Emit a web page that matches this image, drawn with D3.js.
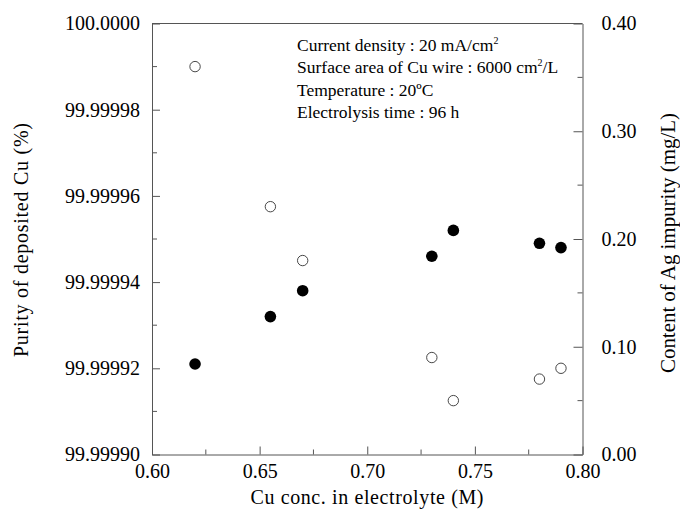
<!DOCTYPE html>
<html>
<head>
<meta charset="utf-8">
<script src="https://cdn.jsdelivr.net/npm/d3@7"></script>
<style>
  body { margin: 0; background: #fff; }
  text { font-family: "Liberation Serif", "Times New Roman", serif; fill: #000; }
  .axis path, .axis line { stroke: #555; stroke-width: 1; }
</style>
</head>
<body>
<div id="chart"></div>
<script>
// Cu concentration (M)
var conc = [0.62, 0.655, 0.67, 0.73, 0.74, 0.78, 0.79];
// purity of deposited Cu (%) - filled circles, left axis
var purity = [99.999921, 99.999932, 99.999938, 99.999946, 99.999952, 99.999949, 99.999948];
// content of Ag impurity (mg/L) - open circles, right axis
var agContent = [0.36, 0.23, 0.18, 0.09, 0.05, 0.07, 0.08];

var xTicks = [0.60, 0.65, 0.70, 0.75, 0.80];
var xMinor = [0.625, 0.675, 0.725, 0.775];
var purityTicks = [99.9999, 99.99992, 99.99994, 99.99996, 99.99998, 100.0];
var purityLabels = ["99.99990", "99.99992", "99.99994", "99.99996", "99.99998", "100.0000"];
var purityMinor = [99.99991, 99.99993, 99.99995, 99.99997, 99.99999];
var agTicks = [0.0, 0.1, 0.2, 0.3, 0.4];
var agMinor = [0.05, 0.15, 0.25, 0.35];

var notes = ["Current density : 20 mA/cm", "Surface area of Cu wire : 6000 cm", "Temperature : 20\u00baC", "Electrolysis time : 96 h"];

var svg = d3.select("#chart")
  .append("svg")
  .attr("width", 680)
  .attr("height", 518);

var pArea = [152, 23.5, 582.5, 454.5];

var x = d3.scaleLinear().domain([0.6, 0.8]).range([pArea[0], pArea[2]]);
var yL = d3.scaleLinear().domain([99.9999, 100]).range([pArea[3], pArea[1]]);
var yR = d3.scaleLinear().domain([0, 0.4]).range([pArea[3], pArea[1]]);

// frame top line
svg.append("line")
  .attr("x1", pArea[0]).attr("x2", pArea[2])
  .attr("y1", pArea[1]).attr("y2", pArea[1])
  .attr("stroke", "#555");

// bottom axis
var gx = svg.append("g")
  .attr("class", "axis")
  .attr("transform", `translate(0,${pArea[3]})`)
  .call(d3.axisBottom(x).tickValues(xTicks).tickSizeInner(-8).tickSizeOuter(0)
    .tickPadding(9).tickFormat(d3.format(".2f")));
gx.selectAll("line.minor").data(xMinor).enter().append("line")
  .attr("x1", d => x(d)).attr("x2", d => x(d))
  .attr("y1", 0).attr("y2", -5).attr("stroke", "#555");

// left axis
var gl = svg.append("g")
  .attr("class", "axis")
  .attr("transform", `translate(${pArea[0]},0)`)
  .call(d3.axisLeft(yL).tickValues(purityTicks).tickSizeInner(-8).tickSizeOuter(0)
    .tickPadding(12).tickFormat((d, i) => purityLabels[i]));
gl.selectAll("line.minor").data(purityMinor).enter().append("line")
  .attr("y1", d => yL(d)).attr("y2", d => yL(d))
  .attr("x1", 0).attr("x2", 5).attr("stroke", "#555");

// right axis
var gr = svg.append("g")
  .attr("class", "axis")
  .attr("transform", `translate(${pArea[2]},0)`)
  .call(d3.axisRight(yR).tickValues(agTicks).tickSizeInner(-9).tickSizeOuter(0)
    .tickPadding(19).tickFormat(d3.format(".2f")));
gr.selectAll("line.minor").data(agMinor).enter().append("line")
  .attr("y1", d => yR(d)).attr("y2", d => yR(d))
  .attr("x1", 0).attr("x2", -5).attr("stroke", "#555");

svg.selectAll(".axis text").style("font-size", "20px");

// axis titles
svg.append("text")
  .attr("x", 367)
  .attr("y", 504)
  .attr("text-anchor", "middle")
  .attr("textLength", 233)
  .style("font-size", "20px")
  .text("Cu conc. in electrolyte (M)");

svg.append("text")
  .attr("transform", "translate(28,240) rotate(-90)")
  .attr("text-anchor", "middle")
  .attr("textLength", 234)
  .style("font-size", "20px")
  .text("Purity of deposited Cu (%)");

svg.append("text")
  .attr("transform", "translate(675,243) rotate(-90)")
  .attr("text-anchor", "middle")
  .attr("textLength", 260)
  .style("font-size", "21px")
  .text("Content of Ag impurity (mg/L)");

// conditions note
var note = svg.append("g").attr("transform", "translate(297,51)");
note.selectAll("text").data(notes).enter().append("text")
  .attr("x", 0)
  .attr("y", (d, i) => i * 22.3)
  .style("font-size", "17.5px")
  .each(function (d, i) {
    var t = d3.select(this);
    if (i === 0) {
      t.append("tspan").text(d);
      t.append("tspan").attr("dy", -7).style("font-size", "10px").text("2");
    } else if (i === 1) {
      t.append("tspan").text(d);
      t.append("tspan").attr("dy", -7).style("font-size", "10px").text("2");
      t.append("tspan").attr("dy", 7).text("/L");
    } else {
      t.text(d);
    }
  });

// Ag impurity (open circles)
svg.append("g").selectAll("circle").data(conc).enter().append("circle")
  .attr("cx", d => x(d))
  .attr("cy", (d, i) => yR(agContent[i]))
  .attr("r", 5.2)
  .attr("fill", "none")
  .attr("stroke", "#333")
  .attr("stroke-width", 0.9);

// purity (filled circles)
svg.append("g").selectAll("circle").data(conc).enter().append("circle")
  .attr("cx", d => x(d))
  .attr("cy", (d, i) => yL(purity[i]))
  .attr("r", 5.8)
  .attr("fill", "#000");
</script>
</body>
</html>
